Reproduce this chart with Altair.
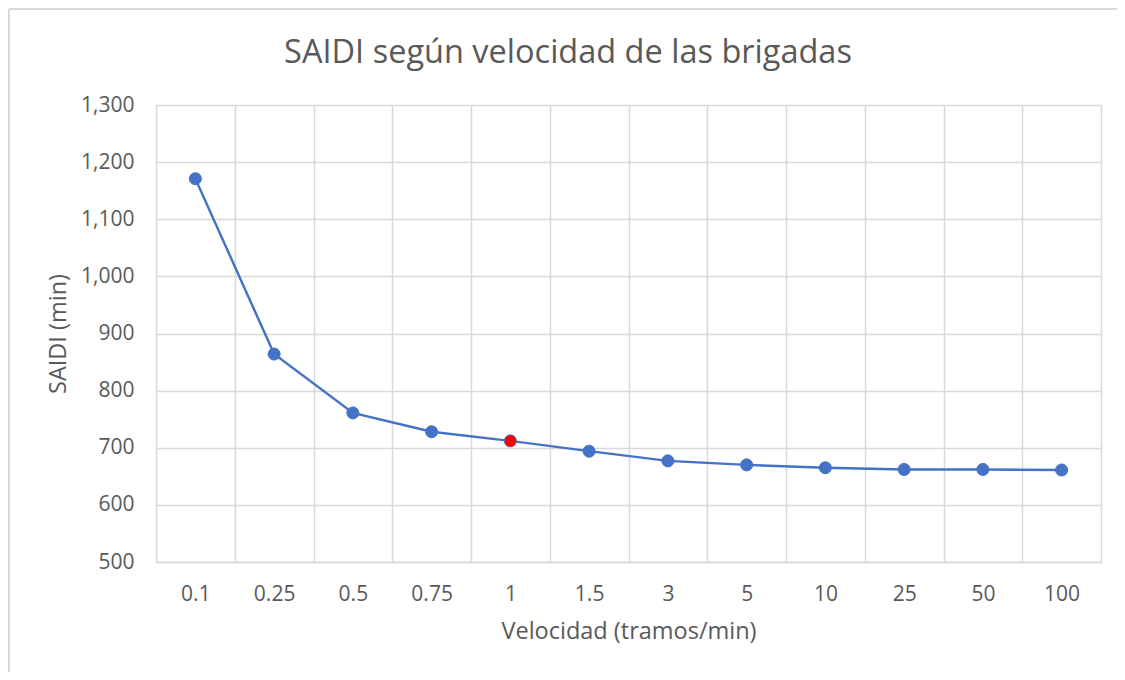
import altair as alt
import pandas as pd

categorias = ["0.1", "0.25", "0.5", "0.75", "1", "1.5", "3", "5", "10", "25", "50", "100"]
saidi = [1171, 864, 761, 728, 712, 694, 677, 670, 665, 662, 662, 661]
destacado = ["1"]
y_ticks = [500, 600, 700, 800, 900, 1000, 1100, 1200, 1300]
titulo = "SAIDI según velocidad de las brigadas"

df = pd.DataFrame({
    "vel": categorias,
    "saidi": saidi,
    "dest": ["sí" if c in destacado else "no" for c in categorias],
})

FONT = "Open Sans"
GRAY = "#595959"
GRID = "#d9d9d9"
BLUE = "#4472C4"

x_enc = alt.X(
    "vel:N",
    sort=categorias,
    bandPosition=0.5,
    scale=alt.Scale(type="band", paddingInner=0, paddingOuter=0),
    axis=alt.Axis(
        title="Velocidad (tramos/min)",
        tickBand="extent",
        grid=True,
        gridColor=GRID,
        gridWidth=1.5,
        ticks=False,
        domainColor=GRID,
        domainWidth=1.5,
        labelAngle=0,
        labelFont=FONT,
        labelFontSize=21,
        labelColor=GRAY,
        labelPadding=21,
        titleFont=FONT,
        titleFontSize=23.5,
        titleFontWeight="normal",
        titleColor=GRAY,
        titlePadding=15,
    ),
)
y_enc = alt.Y(
    "saidi:Q",
    scale=alt.Scale(domain=[500, 1300], nice=False, zero=False),
    axis=alt.Axis(
        title="SAIDI (min)",
        values=y_ticks,
        format=",.0f",
        grid=True,
        gridColor=GRID,
        gridWidth=1.5,
        ticks=False,
        domain=False,
        labelFont=FONT,
        labelFontSize=21,
        labelColor=GRAY,
        labelPadding=22,
        titleFont=FONT,
        titleFontSize=23.5,
        titleFontWeight="normal",
        titleColor=GRAY,
        titlePadding=10,
    ),
)

base = alt.Chart(df)
line = base.mark_line(color=BLUE, strokeWidth=2.4).encode(x=x_enc, y=y_enc)
points = base.mark_point(filled=True, size=145, opacity=1, stroke=BLUE, strokeWidth=1).encode(
    x=x_enc,
    y=y_enc,
    fill=alt.Fill("dest:N", scale=alt.Scale(domain=["no", "sí"], range=[BLUE, "#FF0000"]), legend=None),
)

title_df = pd.DataFrame({"t": [titulo]})
title_mark = alt.Chart(title_df).mark_text(
    font=FONT, fontSize=32.5, color=GRAY, align="center", baseline="alphabetic"
).encode(text="t:N", x=alt.value(412), y=alt.value(-42))

border_left = alt.Chart(title_df).mark_rule(color=GRID, strokeWidth=2).encode(
    x=alt.value(-147), y=alt.value(-96), y2=alt.value(600)
)
border_top = alt.Chart(title_df).mark_rule(color=GRID, strokeWidth=2).encode(
    x=alt.value(-147), x2=alt.value(970), y=alt.value(-96)
)

chart = alt.layer(border_left, border_top, line, points, title_mark).properties(
    width=945,
    height=457,
    autosize=alt.AutoSizeParams(type="none"),
    padding={"left": 148, "top": 97, "right": 16, "bottom": 110},
).configure_view(stroke=None)

chart.save("out.html", embed_options={"renderer": "svg", "actions": False})
